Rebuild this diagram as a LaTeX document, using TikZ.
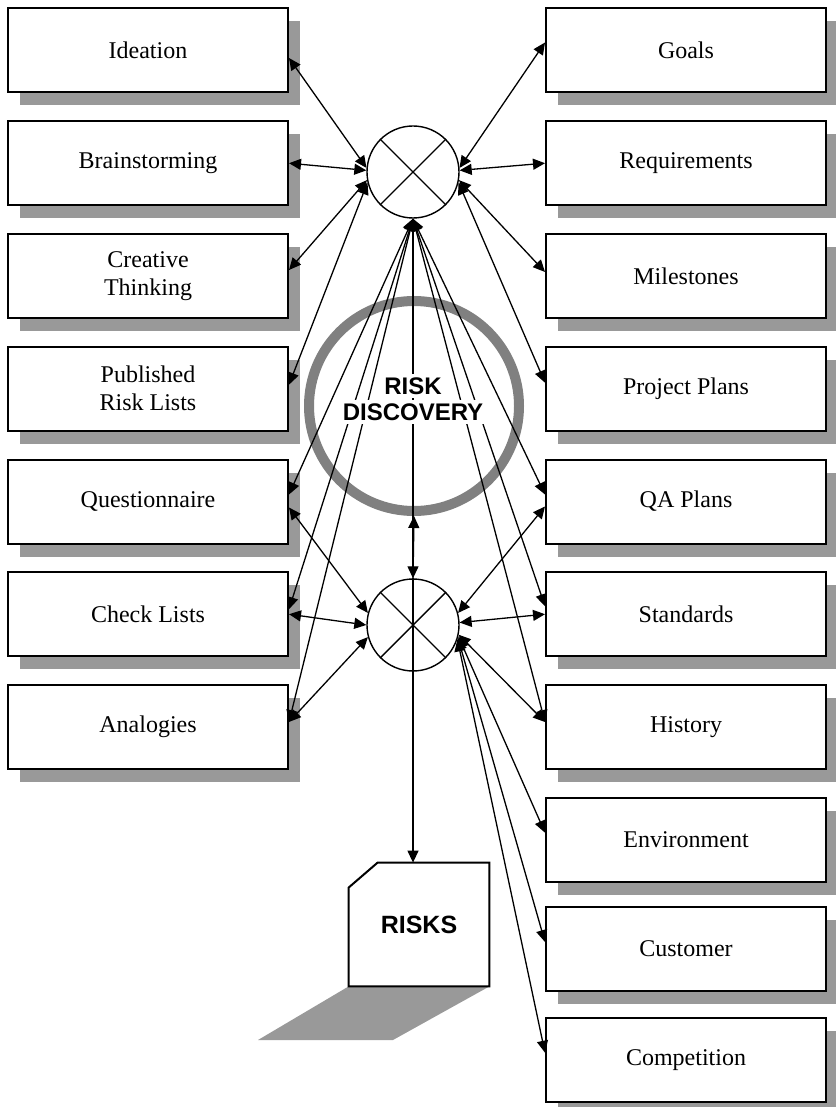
\documentclass[tikz,border=0pt]{standalone}
\usepackage{fontspec}
\setmainfont{Liberation Serif}
\newfontfamily\headfont{Liberation Sans}
\usetikzlibrary{arrows.meta,shadows}

\definecolor{shadowgray}{RGB}{153,153,153}
\definecolor{ringgray}{RGB}{128,128,128}

\begin{document}
\begin{tikzpicture}[x=0.5pt,y=-0.5pt,
  srcbox/.style={draw, line width=1pt, fill=white,
    minimum width=140pt, minimum height=42pt, inner sep=0pt, align=center,
    font=\fontsize{12}{14}\selectfont,
    drop shadow={shadow xshift=6pt, shadow yshift=-6.5pt, fill=shadowgray, opacity=1}},
  junction/.style={draw, circle, line width=0.7pt, minimum size=46pt,
    inner sep=0pt, fill=white},
  link/.style={line width=0.65pt,
    {Triangle[length=6pt,width=5.5pt]}-{Triangle[length=6pt,width=5.5pt]}},
  feed/.style={line width=0.65pt, -{Triangle[length=6pt,width=5.5pt]}},
  headtext/.style={fill=white, inner xsep=2pt, inner ysep=2pt,
    font=\headfont\bfseries\fontsize{12}{14}\selectfont},
]
\useasboundingbox (0,0) rectangle (835,1107);

% central ring
\node[draw=ringgray, line width=5pt, circle, minimum size=105pt, inner sep=0pt]
  (ring) at (414,406) {};

% left column
\node[srcbox] (ideation)  at (148,50.5)  {Ideation};
\node[srcbox] (brain)     at (148,163.2) {Brainstorming};
\node[srcbox] (creative)  at (148,276)   {Creative\\Thinking};
\node[srcbox] (published) at (148,388.7) {Published\\Risk Lists};
\node[srcbox] (quest)     at (148,501.5) {Questionnaire};
\node[srcbox] (check)     at (148,614.2) {Check Lists};
\node[srcbox] (analog)    at (148,727)   {Analogies};

% right column
\node[srcbox] (goals)     at (686,50.5)  {Goals};
\node[srcbox] (req)       at (686,163.2) {Requirements};
\node[srcbox] (mile)      at (686,276)   {Milestones};
\node[srcbox] (plans)     at (686,388.7) {Project Plans};
\node[srcbox] (qa)        at (686,501.5) {QA Plans};
\node[srcbox] (standards) at (686,614.2) {Standards};
\node[srcbox] (history)   at (686,727)   {History};
\node[srcbox] (env)       at (686,839.7) {Environment};
\node[srcbox] (customer)  at (686,949)   {Customer};
\node[srcbox] (comp)      at (686,1059.7){Competition};

% junctions
\node[junction] (T) at (413,172) {};
\draw[line width=0.7pt] (T.north west) -- (T.south east) (T.north east) -- (T.south west);
\node[junction] (B) at (413,625) {};
\draw[line width=0.7pt] (B.north west) -- (B.south east) (B.north east) -- (B.south west);

% risks document
\node[minimum width=70pt, minimum height=61.5pt, inner sep=0pt,
  font=\headfont\bfseries\fontsize{12.5}{14}\selectfont] (risks) at (419,924.5) {RISKS};
\fill[shadowgray] (risks.south west) -- (risks.south east) -- (393,1040) -- (258,1040) -- cycle;
\draw[line width=1pt, line join=miter]
  ([yshift=-12.5pt]risks.north west) -- ([xshift=14.5pt]risks.north west)
  -- (risks.north east) -- (risks.south east) -- (risks.south west) -- cycle;

% upper junction, sideways
\draw[link] ([yshift=-3.75pt]ideation.east) -- (T.175);
\draw[link] (brain.east) -- (T.178);
\draw[link] ([yshift=3pt]creative.east) -- (T.190);
\draw[link] ([yshift=2pt]published.east) -- (T.193);
\draw[link] ([yshift=4pt]goals.west) -- (T.5);
\draw[link] (req.west) -- (T.2);
\draw[link] ([yshift=2pt]mile.west) -- (T.-10);
\draw[link] ([yshift=3pt]plans.west) -- (T.-13);

% upper junction, fan from below
\draw[link] (T.south) -- ([yshift=3.5pt]quest.east);
\draw[link] (T.south) -- ([yshift=2.5pt]check.east);
\draw[link] (T.south) -- ([yshift=2.5pt]analog.east);
\draw[link] (T.south) -- ([yshift=3.5pt]qa.west);
\draw[link] (T.south) -- ([yshift=4pt]standards.west);
\draw[link] (T.south) -- ([yshift=2.5pt]history.west);

% vertical spine
\draw[link] (T.south) -- (B.north);
\draw[feed] (B.north) -- (ring.south);
\draw[feed] (B.north) -- (B.north |- risks.north);

% lower junction
\draw[link] ([yshift=-3pt]quest.east) -- (B.165);
\draw[link] (check.east) -- (B.180);
\draw[link] ([yshift=2.5pt]analog.east) -- (B.195);
\draw[link] ([yshift=-2.5pt]qa.west) -- (B.15);
\draw[link] (standards.west) -- (B.3);
\draw[link] ([yshift=2.5pt]history.west) -- (B.-12);
\draw[link] ([yshift=3.5pt]env.west) -- (B.-14);
\draw[link] ([yshift=3.5pt]customer.west) -- (B.-16);
\draw[link] ([yshift=3.5pt]comp.west) -- (B.-18);

% ring caption
\node[headtext] (capA) at (413,386) {RISK};
\node[headtext] (capB) at (413,412) {DISCOVERY};
\end{tikzpicture}
\end{document}
